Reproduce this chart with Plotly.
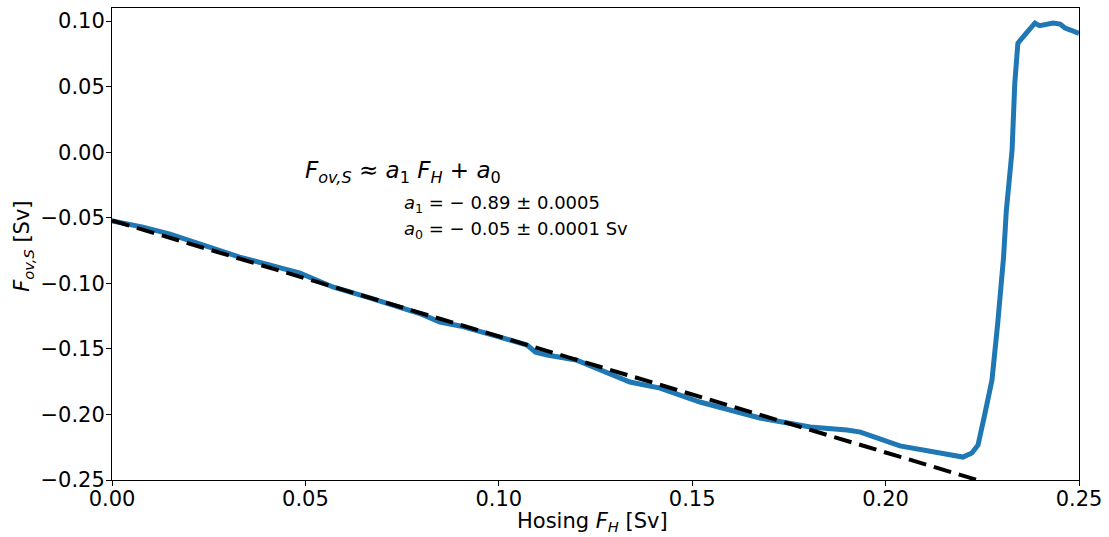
import plotly.graph_objects as go

# Blue curve (hosing vs overturning)
hosing = [0.0, 0.008, 0.015, 0.022, 0.033, 0.0486, 0.0571, 0.066, 0.0745, 0.08, 0.0848, 0.09,
          0.1003, 0.1073, 0.1095, 0.1125, 0.12, 0.1339, 0.1417, 0.152, 0.1675, 0.1805, 0.19,
          0.1935, 0.2037, 0.212, 0.220, 0.2223, 0.2239, 0.2257, 0.2275, 0.229, 0.2305, 0.2312,
          0.2316, 0.2327, 0.2334, 0.2342, 0.2366, 0.2386, 0.2398, 0.2407, 0.2418, 0.2433,
          0.2451, 0.2464, 0.248, 0.25]
fov = [-0.0525, -0.0571, -0.0625, -0.0693, -0.080, -0.0922, -0.1028, -0.1105, -0.118, -0.1235,
       -0.1295, -0.1325, -0.141, -0.1471, -0.1525, -0.1547, -0.1585, -0.1753, -0.1799, -0.1905,
       -0.2027, -0.2096, -0.2119, -0.2135, -0.2240, -0.2285, -0.2325, -0.2294, -0.2233, -0.199,
       -0.1738, -0.13, -0.08, -0.045, -0.030, 0.0016, 0.0527, 0.0832, 0.0916, 0.0985, 0.0965,
       0.097, 0.0985, 0.0985, 0.0977, 0.0947, 0.093, 0.0905]

# Linear fit line
fit_x = [0.0, 0.2245]
a1 = -0.885
a0 = -0.052
fit_y = [a1 * v + a0 for v in fit_x]

FONT = "DejaVu Sans, Arial, sans-serif"

fig = go.Figure()
fig.add_trace(go.Scatter(x=hosing, y=fov, mode="lines",
                         line=dict(color="#1f77b4", width=5), showlegend=False))
fig.add_trace(go.Scatter(x=fit_x, y=fit_y, mode="lines",
                         line=dict(color="black", width=4, dash="18px,8px"), showlegend=False))

fig.add_annotation(x=0.0494, y=-0.0151, xref="x", yref="y", xanchor="left", yanchor="middle",
                   showarrow=False, font=dict(family=FONT, size=23, color="black"),
                   text="<i>F</i><sub><i>ov,S</i></sub> ≈ <i>a</i><sub>1</sub> <i>F</i><sub><i>H</i></sub> + <i>a</i><sub>0</sub>")
fig.add_annotation(x=0.075, y=-0.0395, xref="x", yref="y", xanchor="left", yanchor="middle",
                   showarrow=False, font=dict(family=FONT, size=18, color="black"),
                   text="<i>a</i><sub>1</sub> = − 0.89 ± 0.0005")
fig.add_annotation(x=0.075, y=-0.0594, xref="x", yref="y", xanchor="left", yanchor="middle",
                   showarrow=False, font=dict(family=FONT, size=18, color="black"),
                   text="<i>a</i><sub>0</sub> = − 0.05 ± 0.0001 Sv")

# Axis titles as annotations (exact placement)
fig.add_annotation(x=0.5, y=0, xref="paper", yref="paper", xanchor="center", yanchor="middle",
                   yshift=-42, xshift=-3, showarrow=False,
                   font=dict(family=FONT, size=21, color="black"),
                   text="Hosing <i>F</i><sub><i>H</i></sub> [Sv]")
fig.add_annotation(x=0, y=0.494, xref="paper", yref="paper", xanchor="center", yanchor="middle",
                   xshift=-89, textangle=-90, showarrow=False,
                   font=dict(family=FONT, size=21, color="black"),
                   text="<i>F</i><sub><i>ov,S</i></sub> [Sv]")

fig.update_layout(
    width=1109, height=537,
    margin=dict(l=112, r=30, t=8, b=57),
    paper_bgcolor="white", plot_bgcolor="white",
    font=dict(family=FONT, size=21, color="black"),
)
fig.update_xaxes(range=[0, 0.25], tickvals=[0, 0.05, 0.10, 0.15, 0.20, 0.25],
                 ticktext=["0.00", "0.05", "0.10", "0.15", "0.20", "0.25"],
                 showgrid=False, zeroline=False, showline=True, linecolor="black", linewidth=1,
                 mirror=True, ticks="outside", ticklen=5, tickcolor="black",
                 ticklabelstandoff=-5,
                 tickfont=dict(size=21), automargin=False)
fig.update_yaxes(range=[-0.25, 0.11], tickvals=[-0.25, -0.20, -0.15, -0.10, -0.05, 0.0, 0.05, 0.10],
                 ticktext=["−0.25", "−0.20", "−0.15", "−0.10", "−0.05", "0.00", "0.05", "0.10"],
                 showgrid=False, zeroline=False, showline=True, linecolor="black", linewidth=1,
                 mirror=True, ticks="outside", ticklen=5, tickcolor="black",
                 ticklabelstandoff=-3,
                 tickfont=dict(size=21), automargin=False)

fig.write_html("out.html")
